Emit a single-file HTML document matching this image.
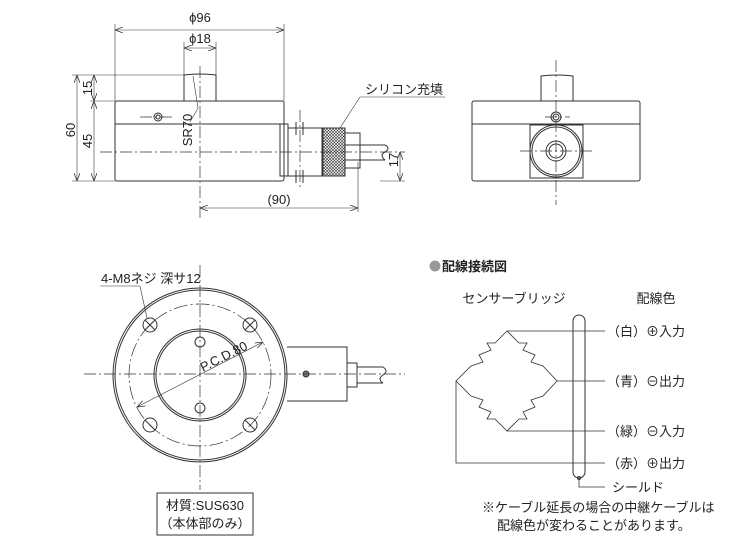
<!DOCTYPE html>
<html><head><meta charset="utf-8"><style>
html,body{margin:0;padding:0;background:#fff;width:745px;height:550px;overflow:hidden}
svg{display:block}
text{font-family:"Liberation Sans","Noto Sans CJK JP",sans-serif;fill:#222;font-size:13px}
</style></head><body>
<svg width="745" height="550" viewBox="0 0 745 550" xmlns="http://www.w3.org/2000/svg">
<defs>
<marker id="a" markerWidth="8" markerHeight="6" refX="8" refY="3" orient="auto-start-reverse" markerUnits="userSpaceOnUse"><path d="M0,0 L8,3 L0,6" fill="none" stroke="#333" stroke-width="0.8"/></marker>
<pattern id="h" width="3" height="3" patternUnits="userSpaceOnUse"><rect width="3" height="3" fill="#fff"/><path d="M0,0L3,3M3,0L0,3" stroke="#333" stroke-width="0.6"/></pattern>
</defs>
<g fill="none" stroke="#333" stroke-width="1">
<rect x="115" y="101" width="169" height="80" rx="2"/>
<line x1="115" y1="124" x2="284" y2="124"/>
<path d="M184,101V75Q200,73 216,75V101"/>
<rect x="280" y="124" width="8" height="52"/>
<rect x="288" y="128" width="57" height="48"/>
<line x1="322" y1="128" x2="322" y2="176"/>
<rect x="323" y="128" width="22" height="48" fill="url(#h)"/>
<path d="M345,133H360V168H345"/>
<path d="M345,145H385M345,160H385"/>
<path d="M385,145q6,3 0,7q-6,3 0,8" />
<line x1="296" y1="122" x2="296" y2="135"/><line x1="303" y1="122" x2="303" y2="135"/>
<line x1="296" y1="170" x2="296" y2="183"/><line x1="303" y1="170" x2="303" y2="183"/>
<circle cx="158" cy="117" r="4"/><circle cx="158" cy="117" r="2"/>
<g stroke-width="0.7" stroke-dasharray="12,3,2,3">
<line x1="100" y1="152" x2="405" y2="152"/>
<line x1="200" y1="66" x2="200" y2="220"/>
<line x1="140" y1="117" x2="175" y2="117"/>
<line x1="300" y1="110" x2="300" y2="190"/>
</g>
<g stroke-width="0.6">
<line x1="115" y1="24" x2="115" y2="101"/><line x1="284" y1="24" x2="284" y2="101"/>
<line x1="115" y1="30" x2="284" y2="30" marker-start="url(#a)" marker-end="url(#a)"/>
<line x1="184" y1="42" x2="184" y2="75"/><line x1="216" y1="42" x2="216" y2="75"/>
<line x1="184" y1="48" x2="216" y2="48" marker-start="url(#a)" marker-end="url(#a)"/>
<line x1="72" y1="75" x2="184" y2="75"/><line x1="90" y1="101" x2="115" y2="101"/><line x1="72" y1="181" x2="115" y2="181"/>
<line x1="77" y1="75" x2="77" y2="181" marker-start="url(#a)" marker-end="url(#a)"/>
<line x1="94" y1="75" x2="94" y2="101" marker-start="url(#a)" marker-end="url(#a)"/>
<line x1="94" y1="101" x2="94" y2="181" marker-start="url(#a)" marker-end="url(#a)"/>
<line x1="358" y1="162" x2="358" y2="212"/>
<line x1="200" y1="208" x2="358" y2="208" marker-start="url(#a)" marker-end="url(#a)"/>
<line x1="380" y1="181" x2="405" y2="181"/>
<line x1="400" y1="152" x2="400" y2="181" marker-start="url(#a)" marker-end="url(#a)"/>
<path d="M193,76L198,108L190,122"/>
<path d="M445,97H360L340,128"/>
</g>
<rect x="472" y="101" width="168" height="80" rx="2"/>
<line x1="472" y1="124" x2="640" y2="124"/>
<path d="M541,101V76Q557,74 573,76V101"/>
<rect x="530" y="125" width="53" height="53"/>
<circle cx="556" cy="151" r="26"/><circle cx="556" cy="151" r="24"/>
<circle cx="556" cy="151" r="10"/><circle cx="556" cy="151" r="7"/>
<circle cx="556" cy="117" r="5"/><circle cx="556" cy="117" r="3"/>
<g stroke-width="0.7" stroke-dasharray="12,3,2,3">
<line x1="556" y1="60" x2="556" y2="205"/>
<line x1="520" y1="151" x2="592" y2="151"/>
<line x1="545" y1="117" x2="570" y2="117"/>
</g>
<circle cx="200" cy="375" r="87"/><circle cx="200" cy="375" r="85"/>
<circle cx="200" cy="375" r="46"/><circle cx="200" cy="375" r="44"/>
<circle cx="200" cy="375" r="71" stroke-width="0.7" stroke-dasharray="14,3,2,3"/>
<g>
<circle cx="150" cy="325" r="7"/><path d="M145,320l10,10M155,320l-10,10"/>
<circle cx="250" cy="325" r="7"/><path d="M245,320l10,10M255,320l-10,10"/>
<circle cx="150" cy="425" r="7"/><path d="M145,420l10,10"/>
<circle cx="250" cy="425" r="7"/><path d="M245,420l10,10"/>
</g>
<circle cx="200" cy="342" r="5"/><circle cx="200" cy="408" r="5"/>
<path d="M287,347H347V401H287"/>
<path d="M347,363H357V387H347"/>
<path d="M357,367H383M357,383H383M383,367q6,4 0,8q-6,4 0,8"/>
<circle cx="306" cy="374" r="3" fill="#777"/>
<g stroke-width="0.7" stroke-dasharray="12,3,2,3">
<line x1="84" y1="374" x2="405" y2="374"/>
<line x1="200" y1="265" x2="200" y2="490"/>
</g>
<g stroke-width="0.6">
<line x1="137" y1="407" x2="263" y2="342" marker-start="url(#a)" marker-end="url(#a)"/>
<path d="M100,286H140L147,318"/>
</g>
<rect x="157" y="493" width="96" height="42"/>
<rect x="573" y="315" width="12" height="163" rx="6"/>
<path d="M507,331L495,343L487,343L491,350L479,355L483,362L471,366L456,381L471,396L483,400L479,407L491,412L487,419L495,419L507,431L519,419L527,419L523,412L535,407L531,400L543,396L557,381L543,366L531,362L535,355L523,350L527,343L519,343Z" stroke-width="0.8"/>
<path d="M507,331H605M557,381H605M507,431H605M456,381V463H605M579,478V487H605" stroke-width="0.8"/>
<circle cx="579" cy="478" r="1.5"/>
</g>
<circle cx="435" cy="266" r="5.5" fill="#999"/>
<g font-size="14">
<text x="200" y="22" text-anchor="middle">ϕ96</text>
<text x="200" y="43" text-anchor="middle">ϕ18</text>
<text transform="translate(75,130) rotate(-90)" text-anchor="middle">60</text>
<text transform="translate(92,141) rotate(-90)" text-anchor="middle">45</text>
<text transform="translate(92,88) rotate(-90)" text-anchor="middle">15</text>
<text transform="translate(192,130) rotate(-90)" text-anchor="middle">SR70</text>
<text transform="translate(398,160) rotate(-90)" text-anchor="middle">17</text>
<text x="279" y="204" text-anchor="middle">(90)</text>
<text x="365" y="94" font-size="12.5">シリコン充填</text>
<text x="101" y="283" font-size="12.5">4-M8ネジ 深サ12</text>
<text transform="translate(203,372) rotate(-27)" font-size="14">P.C.D.80</text>
<text x="205" y="510" text-anchor="middle" font-size="13">材質:SUS630</text>
<text x="205" y="528" text-anchor="middle" font-size="13">（本体部のみ）</text>
<text x="442" y="271" font-weight="bold" font-size="13.5">配線接続図</text>
<text x="514" y="303" text-anchor="middle" font-size="12.5">センサーブリッジ</text>
<text x="656" y="303" text-anchor="middle" font-size="12.5">配線色</text>
<text x="607" y="336" font-size="13">（白）⊕入力</text>
<text x="607" y="386" font-size="13">（青）⊖出力</text>
<text x="607" y="436" font-size="13">（緑）⊖入力</text>
<text x="607" y="468" font-size="13">（赤）⊕出力</text>
<text x="612" y="492" font-size="13">シールド</text>
<text x="482" y="512" font-size="12.5">※ケーブル延長の場合の中継ケーブルは</text>
<text x="497" y="530" font-size="12.5">配線色が変わることがあります。</text>
</g>
</svg>
</body></html>
